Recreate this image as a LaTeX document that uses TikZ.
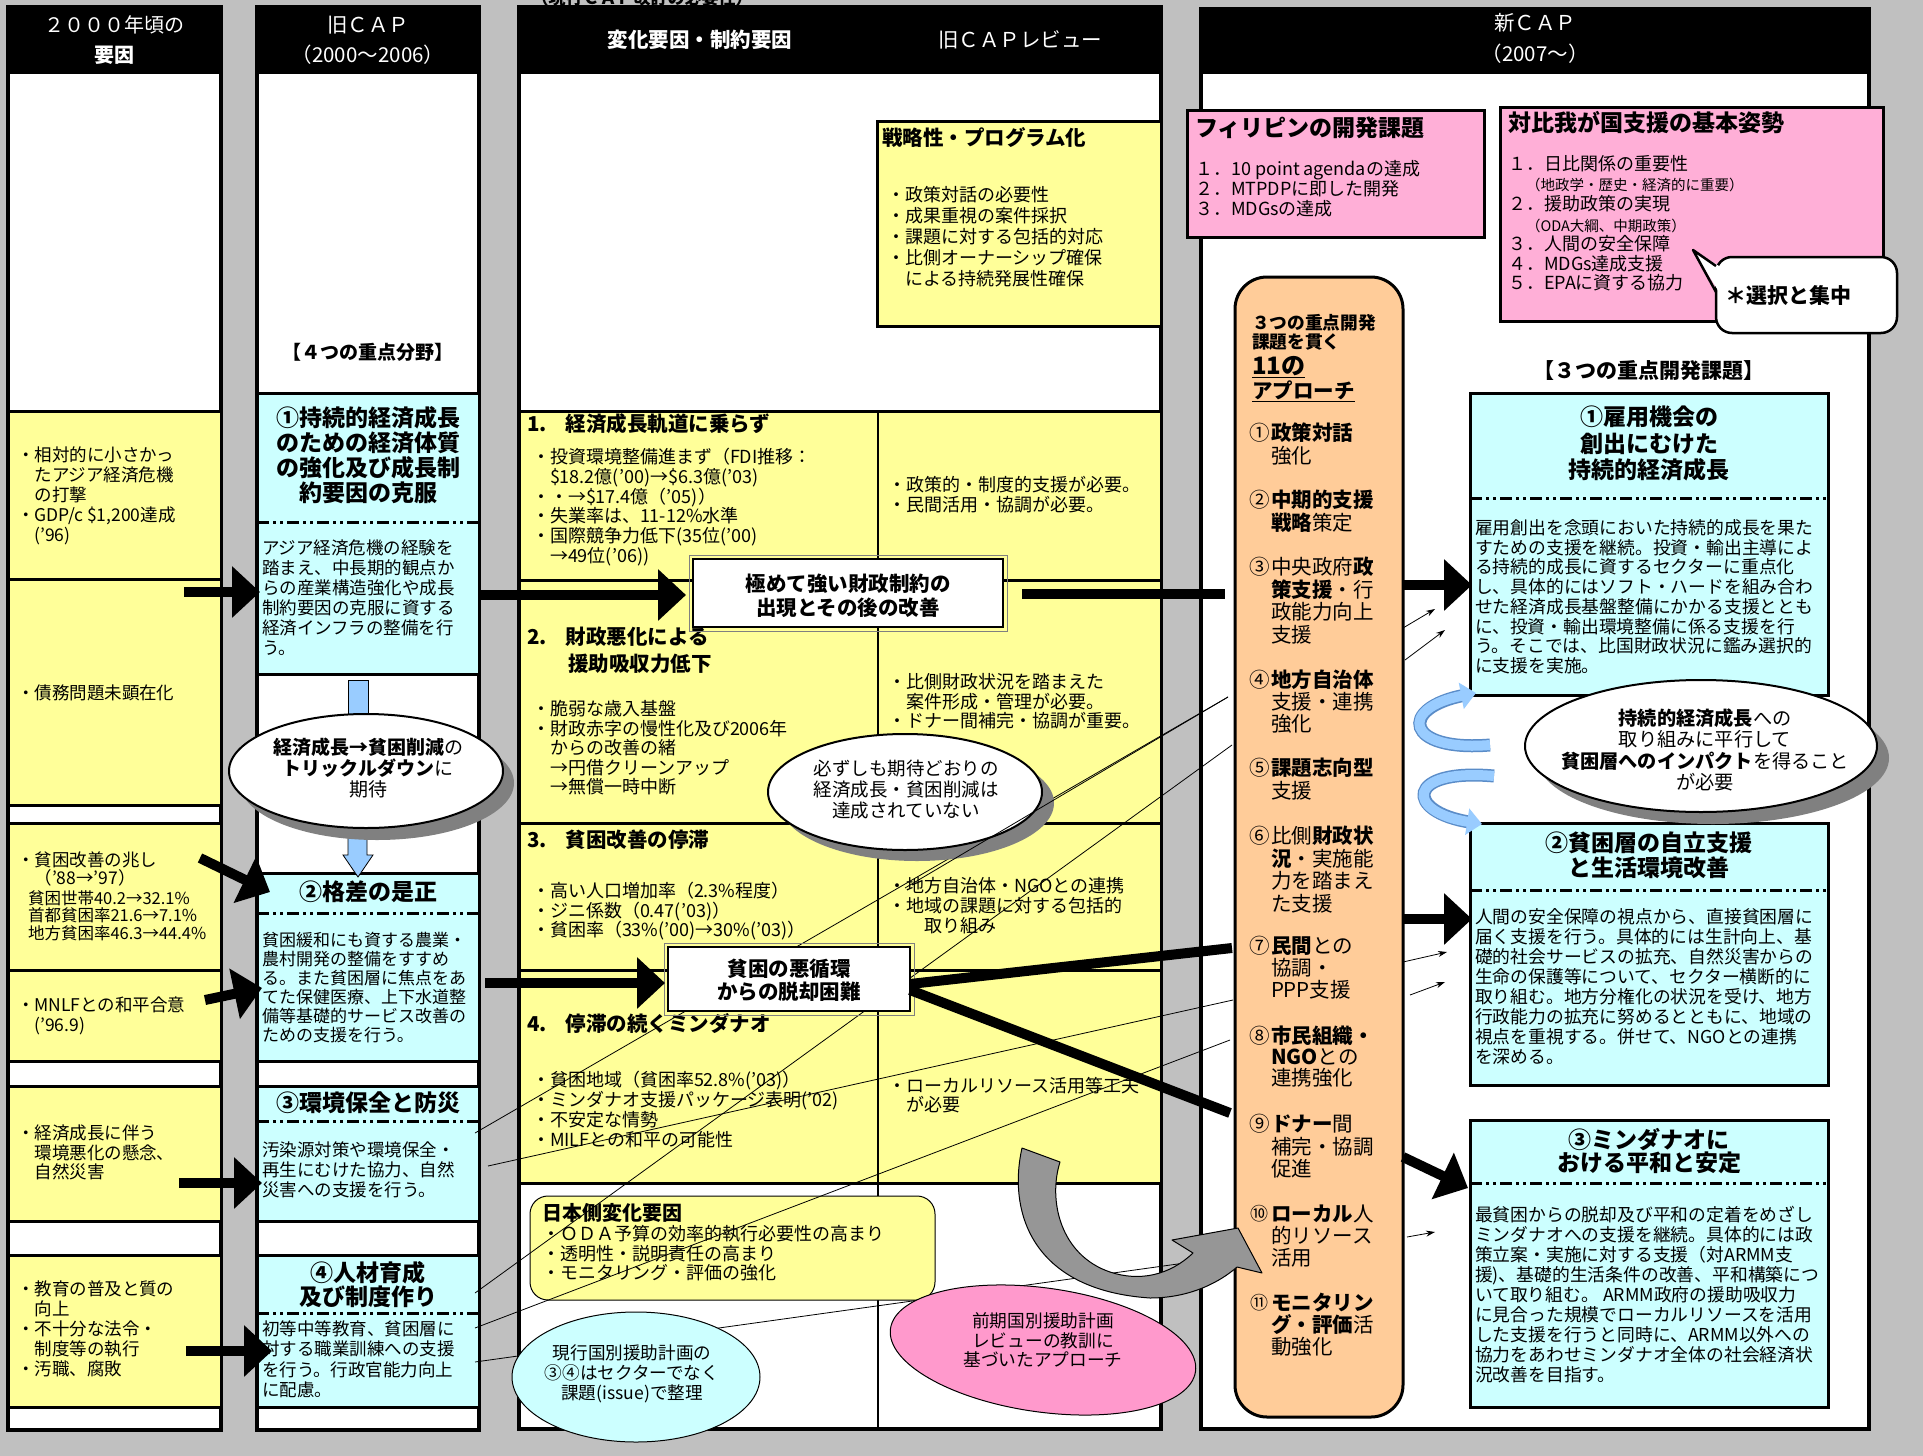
\documentclass[tikz,border=0pt]{standalone}
\usepackage{fontspec}
\setmainfont{Noto Sans CJK JP}
\usetikzlibrary{arrows.meta,shapes.geometric}
\newcommand\fsz[2]{\fontsize{#1pt}{#2pt}\selectfont}
\newcommand\LL[1]{\vtop{\let\\\cr\halign{##\hfil\cr#1\crcr}}}
\newcommand\CL[1]{\vtop{\let\\\cr\halign{\hfil##\hfil\cr#1\crcr}}}
\newcommand\MyBox[6]{\node[#2, anchor=north west, minimum width={(#5-#3)*1pt}, minimum height={(#6-#4)*1pt}] (#1) at (#3,#4) {};}
\definecolor{cBg}{RGB}{192,192,192}
\definecolor{cY}{RGB}{255,255,153}
\definecolor{cC}{RGB}{204,255,255}
\definecolor{cPk}{RGB}{255,175,215}
\definecolor{cPb}{RGB}{255,153,204}
\definecolor{cOr}{RGB}{255,204,153}
\definecolor{cBl}{RGB}{153,204,255}
\definecolor{cBd}{RGB}{90,140,200}
\definecolor{cGa}{RGB}{150,150,150}
\definecolor{cSh}{RGB}{128,128,128}
\tikzset{
  every node/.style={inner sep=0pt, outer sep=0pt},
  tl/.style={anchor=base west},
  tc/.style={anchor=base},
  frame/.style={draw=black, line width=3.5pt, fill=white},
  hdr/.style={draw=black, line width=3.5pt, fill=black},
  ybox/.style={draw=black, line width=3pt, fill=cY},
  cbox/.style={draw=black, line width=3pt, fill=cC},
  pbox/.style={draw=black, line width=3pt, fill=cPk},
  wbox/.style={draw=black, line width=2.5pt, fill=white},
  ddash/.style={line width=3pt, dash pattern=on 12pt off 4pt on 3pt off 4pt on 3pt off 4pt},
  barrow/.style={line width=10pt, -{Triangle[length=28pt,width=50pt]}},
  bline/.style={line width=10pt},
  tline/.style={line width=0.8pt},
  sarrow/.style={line width=0.8pt, -{Stealth[length=9pt,width=6pt]}},
  ribback/.style={line width=13pt, draw=cBd, shorten >=12pt},
  rib/.style={line width=10pt, draw=cBl, -{Triangle[length=15pt,width=26pt]}},
}
\begin{document}
\begin{tikzpicture}[x=1pt,y=-1pt]
\useasboundingbox (0,0) rectangle (1923,1456);
\fill[cBg] (0,0) rectangle (1923,1456);

\node[tc, font=\fsz{17}{20}\bfseries] (toptxt) at (642,5) {（現行ＣＡＰ改訂の必要性）};

% ---------- column frames ----------
\MyBox{col1}{frame}{8}{7}{221}{1430}
\MyBox{col2}{frame}{257}{7}{479}{1430}
\MyBox{col3}{frame}{519}{7}{1161}{1429}
\MyBox{col4}{frame}{1201}{9}{1869}{1429}
\MyBox{h1}{hdr}{8}{7}{221}{72}
\MyBox{h2}{hdr}{257}{7}{479}{72}
\MyBox{h3}{hdr}{519}{7}{1161}{72}
\MyBox{h4}{hdr}{1201}{9}{1869}{72}

\node[tc, text=white, font=\fsz{20}{30}] (h1t) at (114.5,32) {\CL{２０００年頃の\\\textbf{要因}}};
\node[tc, text=white, font=\fsz{20.5}{30}] (h2t) at (368,32) {\CL{旧ＣＡＰ\\（2000〜2006）}};
\node[tc, text=white, font=\fsz{20.5}{24}\bfseries] (h3t) at (700,47) {変化要因・制約要因};
\node[tc, text=white, font=\fsz{20.5}{24}] (h3u) at (1020,47) {旧ＣＡＰレビュー};
\node[tc, text=white, font=\fsz{20.5}{32}] (h4t) at (1535,30) {\CL{新ＣＡＰ\\（2007〜）}};

% ---------- column 1 ----------
\MyBox{c1a}{ybox}{8}{411}{221}{579}
\MyBox{c1b}{ybox}{8}{579}{221}{805}
\MyBox{c1c}{ybox}{8}{823}{221}{970}
\MyBox{c1d}{ybox}{8}{970}{221}{1061}
\MyBox{c1e}{ybox}{8}{1086}{221}{1221}
\MyBox{c1f}{ybox}{8}{1255}{221}{1407}

\node[tl, font=\fsz{17.5}{20}] (t1a) at (17,461.5) {\LL{・相対的に小さかっ\\　たアジア経済危機\\　の打撃\\・GDP/c \$1,200達成\\　('96)}};
\node[tl, font=\fsz{17.5}{20}] (t1b) at (17,699.5) {・債務問題未顕在化};
\node[tl, font=\fsz{17.5}{18}] (t1c) at (17,866.5) {\LL{・貧困改善の兆し\\　（'88→'97）}};
\node[tl, font=\fsz{16.5}{17.5}] (t1c2) at (28,904) {\LL{貧困世帯40.2→32.1\%\\首都貧困率21.6→7.1\%\\地方貧困率46.3→44.4\%}};
\node[tl, font=\fsz{17.5}{20}] (t1d) at (17,1011.5) {\LL{・MNLFとの和平合意\\　('96.9)}};
\node[tl, font=\fsz{17.5}{19.5}] (t1e) at (17,1139.5) {\LL{・経済成長に伴う\\　環境悪化の懸念、\\　自然災害}};
\node[tl, font=\fsz{17.5}{20}] (t1f) at (17,1295.5) {\LL{・教育の普及と質の\\　向上\\・不十分な法令・\\　制度等の執行\\・汚職、腐敗}};

% ---------- column 2 ----------
\node[tc, font=\fsz{19}{22}\bfseries] (c2h) at (368,359) {【４つの重点分野】};
\MyBox{c2a}{cbox}{257}{393}{479}{674}
\MyBox{c2b}{cbox}{257}{873}{479}{1061}
\MyBox{c2c}{cbox}{257}{1086}{479}{1221}
\MyBox{c2d}{cbox}{257}{1255}{479}{1407}
\draw[ddash] (c2a.west |- 0,522) -- (c2a.east |- 0,522);
\draw[ddash] (c2b.west |- 0,913) -- (c2b.east |- 0,913);
\draw[ddash] (c2c.west |- 0,1121) -- (c2c.east |- 0,1121);
\draw[ddash] (c2d.west |- 0,1313) -- (c2d.east |- 0,1313);

\node[tc, font=\fsz{23}{25}\bfseries] (t2a) at (368,426) {\CL{①持続的経済成長\\のための経済体質\\の強化及び成長制\\約要因の克服}};
\node[tl, font=\fsz{17.5}{20}] (t2ab) at (262,554.5) {\LL{アジア経済危機の経験を\\踏まえ、中長期的観点か\\らの産業構造強化や成長\\制約要因の克服に資する\\経済インフラの整備を行\\う。}};
\node[tc, font=\fsz{23}{25}\bfseries] (t2b) at (368,900) {②格差の是正};
\node[tl, font=\fsz{17}{19}] (t2bb) at (262,946.5) {\LL{貧困緩和にも資する農業・\\農村開発の整備をすすめ\\る。また貧困層に焦点をあ\\てた保健医療、上下水道整\\備等基礎的サービス改善の\\ための支援を行う。}};
\node[tc, font=\fsz{23}{25}\bfseries] (t2c) at (368,1111) {③環境保全と防災};
\node[tl, font=\fsz{17.5}{20}] (t2cb) at (262,1156.5) {\LL{汚染源対策や環境保全・\\再生にむけた協力、自然\\災害への支援を行う。}};
\node[tc, font=\fsz{23}{24}\bfseries] (t2d) at (368,1281) {\CL{④人材育成\\及び制度作り}};
\node[tl, font=\fsz{17.5}{20.3}] (t2db) at (262,1335.5) {\LL{初等中等教育、貧困層に\\対する職業訓練への支援\\を行う。行政官能力向上\\に配慮。}};

% blue arrows in column 2
\MyBox{ba1}{draw=black, line width=0.8pt, fill=cBl}{348}{680}{368}{716}
\draw[fill=cBl, line width=0.8pt] (348,830) -- (367,830) -- (367,855) -- (373,855) -- (358,877) -- (343,855) -- (348,855) -- cycle;
\node[ellipse, fill=cSh, minimum width=274pt, minimum height=114pt] (el1s) at (377,783) {};
\node[ellipse, fill=white, draw=black, line width=2pt, minimum width=274pt, minimum height=114pt] (el1) at (366,771) {};
\node[tc, font=\fsz{19}{21}] (el1t) at (368,754) {\CL{\textbf{経済成長→貧困削減}の\\\textbf{トリックルダウン}に\\期待}};

% ---------- column 3 ----------
\MyBox{k0}{ybox}{877}{121}{1161}{326}
\node[tl, font=\fsz{20.5}{24}\bfseries] (k0t) at (882,145) {戦略性・プログラム化};
\node[tl, font=\fsz{18}{21}] (k0b) at (887,201.5) {\LL{・政策対話の必要性\\・成果重視の案件採択\\・課題に対する包括的対応\\・比側オーナーシップ確保\\　による持続発展性確保}};

\MyBox{r1}{ybox}{519}{411}{1161}{580}
\MyBox{r2}{ybox}{519}{580}{1161}{823}
\MyBox{r3}{ybox}{519}{823}{1161}{970}
\MyBox{r4}{ybox}{519}{970}{1161}{1183}
\coordinate (vd1) at (878,411);
\coordinate (vd2) at (878,1428);
\draw[line width=1.3pt] (vd1) -- (vd2);

\node[tl, font=\fsz{20.5}{24}\bfseries] (r1t) at (527,431) {1.\hspace*{19pt}経済成長軌道に乗らず};
\node[tl, font=\fsz{18}{19.8}] (r1b) at (532,463.5) {\LL{・投資環境整備進まず（FDI推移：\\　\$18.2億('00)→\$6.3億('03)\\・・→\$17.4億（'05)）\\・失業率は、11-12\%水準\\・国際競争力低下(35位('00)\\　→49位('06))}};
\node[tl, font=\fsz{18}{20}] (r1r) at (888,491.5) {\LL{・政策的・制度的支援が必要。\\・民間活用・協調が必要。}};

\node[tl, font=\fsz{20.5}{24}\bfseries] (r2t) at (527,644) {2.\hspace*{19pt}財政悪化による};
\node[tl, font=\fsz{20.5}{24}\bfseries] (r2t2) at (568,671) {援助吸収力低下};
\node[tl, font=\fsz{18}{19.5}] (r2b) at (532,715.5) {\LL{・脆弱な歳入基盤\\・財政赤字の慢性化及び2006年\\　からの改善の緒\\　→円借クリーンアップ\\　→無償一時中断}};
\node[tl, font=\fsz{18}{19.5}] (r2r) at (888,688.5) {\LL{・比側財政状況を踏まえた\\　案件形成・管理が必要。\\・ドナー間補完・協調が重要。}};

\node[tl, font=\fsz{20.5}{24}\bfseries] (r3t) at (527,847) {3.\hspace*{19pt}貧困改善の停滞};
\node[tl, font=\fsz{18}{19.5}] (r3b) at (532,897.5) {\LL{・高い人口増加率（2.3\%程度）\\・ジニ係数（0.47('03)）\\・貧困率（33\%('00)→30\%('03)）}};
\node[tl, font=\fsz{18}{20}] (r3r) at (888,892.5) {\LL{・地方自治体・NGOとの連携\\・地域の課題に対する包括的\\　　取り組み}};

\node[tl, font=\fsz{20.5}{24}\bfseries] (r4t) at (527,1031) {4.\hspace*{19pt}停滞の続くミンダナオ};
\node[tl, font=\fsz{18}{20}] (r4b) at (532,1086.5) {\LL{・貧困地域（貧困率52.8\%('03)）\\・ミンダナオ支援パッケージ表明('02)\\・不安定な情勢\\・MILFとの和平の可能性}};
\node[tl, font=\fsz{18}{19}] (r4r) at (888,1092.5) {\LL{・ローカルリソース活用等工夫\\　が必要}};

% Japan box
\node[draw=black, line width=1pt, fill=cY, rounded corners=18pt, anchor=north west, minimum width=405pt, minimum height=104pt] (jp) at (530,1196) {};
\node[tl, font=\fsz{20}{24}\bfseries] (jpt) at (542,1220) {日本側変化要因};
\node[tl, font=\fsz{18}{19.5}] (jpb) at (542,1240.5) {\LL{・ＯＤＡ予算の効率的執行必要性の高まり\\・透明性・説明責任の高まり\\・モニタリング・評価の強化}};

% ---------- column 4 ----------
\MyBox{p1}{pbox}{1187}{110}{1484}{237}
\node[tl, font=\fsz{23}{26}\bfseries] (p1t) at (1195,136) {フィリピンの開発課題};
\node[tl, font=\fsz{18}{20}] (p1b) at (1195,175.5) {\LL{１．10 point agendaの達成\\２．MTPDPに即した開発\\３．MDGsの達成}};

\MyBox{p2}{pbox}{1500}{107}{1883}{321}
\node[tl, font=\fsz{23}{26}\bfseries] (p2t) at (1508,131) {対比我が国支援の基本姿勢};
\node[tl, font=\fsz{18}{20}] (p2a) at (1508,170.5) {１．日比関係の重要性};
\node[tl, font=\fsz{14.5}{16}] (p2b) at (1526,190) {（地政学・歴史・経済的に重要）};
\node[tl, font=\fsz{18}{20}] (p2c) at (1508,210.5) {２．援助政策の実現};
\node[tl, font=\fsz{14.5}{16}] (p2d) at (1526,231) {（ODA大綱、中期政策）};
\node[tl, font=\fsz{18}{19.5}] (p2e) at (1508,250.5) {\LL{３．人間の安全保障\\４．MDGs達成支援\\５．EPAに資する協力}};

\node[draw=black, fill=white, line width=2.5pt, rounded corners=16pt, anchor=north west, minimum width=181pt, minimum height=76pt] (sel) at (1716,257) {};
\coordinate (selp) at (1693,250);
\fill[white] (1719,266) -- (selp) -- (1719,292) -- cycle;
\draw[line width=2.5pt, line join=round] (1716,266) -- (selp) -- (1716,292);
\node[tc, font=\fsz{21}{24}\bfseries] (selt) at (1788,303) {＊選択と集中};

\node[tc, font=\fsz{21}{24}\bfseries] (n4h) at (1649,378) {【３つの重点開発課題】};

\MyBox{nb1}{cbox}{1470}{393}{1828}{695}
\MyBox{nb2}{cbox}{1470}{823}{1828}{1085}
\MyBox{nb3}{cbox}{1470}{1120}{1828}{1407}
\draw[ddash] (nb1.west |- 0,498) -- (nb1.east |- 0,498);
\draw[ddash] (nb2.west |- 0,890) -- (nb2.east |- 0,890);
\draw[ddash] (nb3.west |- 0,1183) -- (nb3.east |- 0,1183);

\node[tc, font=\fsz{23}{26.5}\bfseries] (nb1t) at (1649,425.5) {\CL{①雇用機会の\\創出にむけた\\持続的経済成長}};
\node[tl, font=\fsz{17.8}{19.7}] (nb1b) at (1475,534.5) {\LL{雇用創出を念頭においた持続的成長を果た\\すための支援を継続。投資・輸出主導によ\\る持続的成長に資するセクターに重点化\\し、具体的にはソフト・ハードを組み合わ\\せた経済成長基盤整備にかかる支援ととも\\に、投資・輸出環境整備に係る支援を行\\う。そこでは、比国財政状況に鑑み選択的\\に支援を実施。}};
\node[tc, font=\fsz{23}{25}\bfseries] (nb2t) at (1649,851) {\CL{②貧困層の自立支援\\と生活環境改善}};
\node[tl, font=\fsz{17.8}{20}] (nb2b) at (1475,923.5) {\LL{人間の安全保障の視点から、直接貧困層に\\届く支援を行う。具体的には生計向上、基\\礎的社会サービスの拡充、自然災害からの\\生命の保護等について、セクター横断的に\\取り組む。地方分権化の状況を受け、地方\\行政能力の拡充に努めるとともに、地域の\\視点を重視する。併せて、NGOとの連携\\を深める。}};
\node[tc, font=\fsz{23}{23.5}\bfseries] (nb3t) at (1649,1148) {\CL{③ミンダナオに\\おける平和と安定}};
\node[tl, font=\fsz{17.8}{20}] (nb3b) at (1475,1221.5) {\LL{最貧困からの脱却及び平和の定着をめざし\\ミンダナオへの支援を継続。具体的には政\\策立案・実施に対する支援（対ARMM支\\援)、基礎的生活条件の改善、平和構築につ\\いて取り組む。 ARMM政府の援助吸収力\\に見合った規模でローカルリソースを活用\\した支援を行うと同時に、ARMM以外への\\協力をあわせミンダナオ全体の社会経済状\\況改善を目指す。}};

% orange approach box
\node[draw=black, line width=3pt, fill=cOr, rounded corners=32pt, anchor=north west, minimum width=168pt, minimum height=1140pt] (ob) at (1235,277) {};
\node[tl, font=\fsz{17.7}{19}\bfseries] (o0) at (1252,329.5) {\LL{３つの重点開発\\課題を貫く}};
\node[tl, font=\fsz{24}{26}\bfseries] (o0a) at (1252,374) {\underline{11の}};
\node[tl, font=\fsz{20.5}{24}\bfseries] (o0b) at (1252,398) {\underline{アプローチ}};

\node[tl, font=\fsz{20.5}{22.5}] (n1) at (1249,440.5) {①};
\node[tl, font=\fsz{20.5}{22.5}] (o1) at (1271,440.5) {\LL{\textbf{政策対話}\\強化}};
\node[tl, font=\fsz{20.5}{22.5}] (n2) at (1249,507.5) {②};
\node[tl, font=\fsz{20.5}{22.5}] (o2) at (1271,507.5) {\LL{\textbf{中期的支援}\\\textbf{戦略}策定}};
\node[tl, font=\fsz{20.5}{22.5}] (n3) at (1249,574.5) {③};
\node[tl, font=\fsz{20.5}{22.5}] (o3) at (1271,574.5) {\LL{中央政府\textbf{政}\\\textbf{策支援}・行\\政能力向上\\支援}};
\node[tl, font=\fsz{20.5}{22.5}] (n4) at (1249,687.5) {④};
\node[tl, font=\fsz{20.5}{22}] (o4) at (1271,687.5) {\LL{\textbf{地方自治体}\\支援・連携\\強化}};
\node[tl, font=\fsz{20.5}{22.5}] (n5) at (1249,775.5) {⑤};
\node[tl, font=\fsz{20.5}{23}] (o5) at (1271,775.5) {\LL{\textbf{課題志向型}\\支援}};
\node[tl, font=\fsz{20.5}{22.5}] (n6) at (1249,843.5) {⑥};
\node[tl, font=\fsz{20.5}{22.5}] (o6) at (1271,843.5) {\LL{比側\textbf{財政状}\\\textbf{況}・実施能\\力を踏まえ\\た支援}};
\node[tl, font=\fsz{20.5}{22.5}] (n7) at (1249,953.5) {⑦};
\node[tl, font=\fsz{20.5}{22}] (o7) at (1271,953.5) {\LL{\textbf{民間}との\\協調・\\PPP支援}};
\node[tl, font=\fsz{20.5}{22.5}] (n8) at (1249,1043.5) {⑧};
\node[tl, font=\fsz{20.5}{21}] (o8) at (1271,1043.5) {\LL{\textbf{市民組織・}\\\textbf{NGO}との\\連携強化}};
\node[tl, font=\fsz{20.5}{22.5}] (n9) at (1249,1131.5) {⑨};
\node[tl, font=\fsz{20.5}{22.5}] (o9) at (1271,1131.5) {\LL{\textbf{ドナー}間\\補完・協調\\促進}};
\node[tl, font=\fsz{18}{22.5}] (n10) at (1250,1220.5) {⑩};
\node[tl, font=\fsz{20.5}{22}] (o10) at (1271,1221.5) {\LL{\textbf{ローカル}人\\的リソース\\活用}};
\node[tl, font=\fsz{18}{22.5}] (n11) at (1250,1309.5) {⑪};
\node[tl, font=\fsz{20.5}{22}] (o11) at (1271,1310.5) {\LL{\textbf{モニタリン}\\\textbf{グ・評価}活\\動強化}};

% ---------- thin crossing lines ----------
\coordinate (L1s) at (475,1133); \coordinate (L1e) at (1228,697);
\coordinate (L2s) at (488,1166); \coordinate (L2e) at (1233,1000);
\coordinate (L3s) at (475,1293); \coordinate (L3e) at (1232,745);
\coordinate (L4s) at (475,1328); \coordinate (L4e) at (1230,1040);
\coordinate (L5s) at (475,1362); \coordinate (L5e) at (1235,1256);
\draw[tline] (L1s) -- (L1e);
\draw[tline] (L2s) -- (L2e);
\draw[tline] (L3s) -- (L3e);
\draw[tline] (L4s) -- (L4e);
\draw[tline] (L5s) -- (L5e);

% ellipse in column 3
\node[ellipse, fill=cSh, minimum width=274pt, minimum height=116pt] (el2s) at (917,803) {};
\node[ellipse, fill=white, draw=black, line width=2pt, minimum width=274pt, minimum height=116pt] (el2) at (905,792) {};
\node[tc, font=\fsz{18.5}{21}] (el2t) at (906,775) {\CL{必ずしも期待どおりの\\経済成長・貧困削減は\\達成されていない}};
\draw[tline] (905,888) -- (L1e);

% boxes in column 3
\draw[line width=1pt, draw=cSh] (689,555) rectangle (1007,631);
\MyBox{kb}{wbox}{693}{559}{1003}{627}
\node[tc, font=\fsz{20.5}{24.5}\bfseries] (kbt) at (848,591) {\CL{極めて強い財政制約の\\出現とその後の改善}};
\draw[line width=1pt, draw=cSh] (664,943) rectangle (914,1015);
\MyBox{pb}{wbox}{668}{947}{910}{1011}
\node[tc, font=\fsz{20.5}{23}\bfseries] (pbt) at (789,976) {\CL{貧困の悪循環\\からの脱却困難}};

% cyan ellipse and pink blob
\node[ellipse, fill=cC, draw=black, line width=1pt, minimum width=248pt, minimum height=130pt] (cel) at (636,1377) {};
\node[tc, font=\fsz{17.6}{20}] (celt) at (632,1359.5) {\CL{現行国別援助計画の\\③④はセクターでなく\\課題(issue)で整理}};
\node[ellipse, rotate=-8, fill=cPb, draw=black, line width=1pt, minimum width=308pt, minimum height=124pt] (pkb) at (1043,1350) {};
\node[tc, font=\fsz{17.7}{19.5}] (pkbt) at (1043,1327.5) {\CL{前期国別援助計画\\レビューの教訓に\\基づいたアプローチ}};

% gray curved arrow
\draw[fill=cGa, draw=black, line width=1pt, line join=round] (1022,1148) .. controls (1008,1210) and (1030,1290) .. (1150,1298) .. controls (1190,1298) and (1220,1282) .. (1237,1267) -- (1262,1273) -- (1238,1228) -- (1172,1240) -- (1193,1253) .. controls (1170,1275) and (1140,1282) .. (1110,1272) .. controls (1060,1255) and (1048,1200) .. (1060,1162) -- cycle;

% ---------- thick black arrows ----------
\coordinate (A1s) at (184,592); \coordinate (A1e) at (260,592);
\coordinate (A2s) at (200,858); \coordinate (A2e) at (270,892);
\coordinate (A3s) at (205,1000); \coordinate (A3e) at (262,988);
\coordinate (A4s) at (179,1183); \coordinate (A4e) at (262,1183);
\coordinate (A5s) at (186,1351); \coordinate (A5e) at (272,1351);
\coordinate (A6s) at (481,595); \coordinate (A6e) at (686,595);
\coordinate (A7s) at (485,983); \coordinate (A7e) at (665,983);
\coordinate (A8s) at (1403,585); \coordinate (A8e) at (1472,585);
\coordinate (A9s) at (1403,919); \coordinate (A9e) at (1472,919);
\coordinate (A10s) at (1403,1157); \coordinate (A10e) at (1468,1188);
\draw[barrow] (A1s) -- (A1e);
\draw[barrow] (A2s) -- (A2e);
\draw[barrow] (A3s) -- (A3e);
\draw[barrow] (A4s) -- (A4e);
\draw[barrow] (A5s) -- (A5e);
\draw[barrow] (A6s) -- (A6e);
\draw[barrow] (A7s) -- (A7e);
\draw[barrow] (A8s) -- (A8e);
\draw[barrow] (A9s) -- (A9e);
\draw[barrow] (A10s) -- (A10e);

\coordinate (B1s) at (1022,594); \coordinate (B1e) at (1225,594);
\coordinate (B2e) at (1232,948);
\coordinate (B3e) at (1230,1113);
\draw[bline] (B1s) -- (B1e);
\draw[bline] (pb.east |- 0,984) -- (B2e);
\draw[bline] (pb.east |- 0,990) -- (B3e);

% small thin arrows
\draw[sarrow] (1403,628) -- (1435,609);
\draw[sarrow] (1405,660) -- (1445,630);
\draw[sarrow] (1403,962) -- (1447,952);
\draw[sarrow] (1410,995) -- (1445,982);
\draw[sarrow] (1407,1237) -- (1435,1232);

% blue ribbon arrows
\coordinate (R1s) at (1490,745); \coordinate (R1e) at (1476,693);
\coordinate (R2s) at (1494,776); \coordinate (R2e) at (1482,824);
\draw[ribback] (R1s) .. controls (1405,752) and (1398,708) .. (R1e);
\draw[rib] (R1s) .. controls (1405,752) and (1398,708) .. (R1e);
\draw[ribback] (R2s) .. controls (1405,768) and (1405,812) .. (R2e);
\draw[rib] (R2s) .. controls (1405,768) and (1405,812) .. (R2e);

% right ellipse
\node[ellipse, fill=cSh, minimum width=352pt, minimum height=132pt] (el3s) at (1713,758) {};
\node[ellipse, fill=white, draw=black, line width=2pt, minimum width=352pt, minimum height=132pt] (el3) at (1701,746) {};
\node[tc, font=\fsz{19.2}{21.5}] (el3t) at (1705,725) {\CL{\textbf{持続的経済成長}への\\取り組みに平行して\\\textbf{貧困層へのインパクト}を得ること\\が必要}};

\end{tikzpicture}
\end{document}
